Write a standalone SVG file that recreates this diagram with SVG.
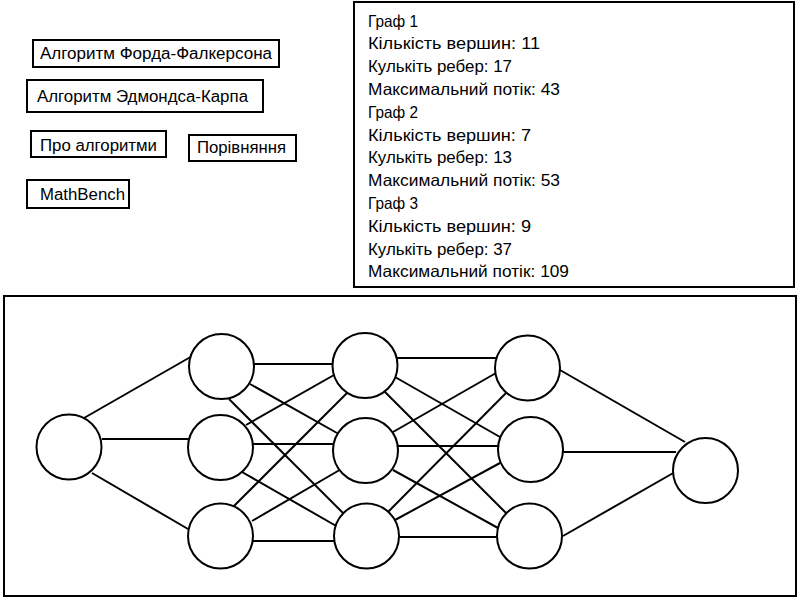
<svg xmlns="http://www.w3.org/2000/svg" width="800" height="600" viewBox="0 0 800 600">
<style>
  .btn rect { fill: #fff; stroke: #000; stroke-width: 2; }
  text { font-family: "Liberation Sans", Arial, sans-serif; font-size: 16px; fill: #000; }
  .info text { font-size: 16.5px; }
  .frame { fill: #fff; stroke: #000; stroke-width: 2; }
  .node circle { fill: #fff; stroke: #000; stroke-width: 2; }
  #edges line { stroke: #000; stroke-width: 2; }
</style>
<rect width="800" height="600" fill="#fff"/>

<g id="btn-ford" class="btn"><rect x="33" y="40" width="246" height="27"/><text x="40" y="59" textLength="232" lengthAdjust="spacingAndGlyphs">Алгоритм Форда-Фалкерсона</text></g>
<g id="btn-edmonds" class="btn"><rect x="27" y="80" width="236" height="32"/><text x="37" y="102" textLength="211" lengthAdjust="spacingAndGlyphs">Алгоритм Эдмондса-Карпа</text></g>
<g id="btn-about" class="btn"><rect x="31" y="131" width="135" height="26"/><text x="40" y="151" textLength="117" lengthAdjust="spacingAndGlyphs">Про алгоритми</text></g>
<g id="btn-compare" class="btn"><rect x="189" y="135" width="107" height="26"/><text x="197" y="153" textLength="89" lengthAdjust="spacingAndGlyphs">Порівняння</text></g>
<g id="btn-mathbench" class="btn"><rect x="27" y="180" width="102" height="28"/><text x="40" y="200" textLength="85" lengthAdjust="spacingAndGlyphs">MathBench</text></g>

<g id="info" class="info">
  <rect x="354" y="2" width="440" height="285" class="frame"/>
  <text x="368" y="26.5" textLength="50" lengthAdjust="spacingAndGlyphs">Граф 1</text>
  <text x="368" y="49.3" textLength="172" lengthAdjust="spacingAndGlyphs">Кількість вершин: 11</text>
  <text x="368" y="72.1" textLength="144" lengthAdjust="spacingAndGlyphs">Кулькіть ребер: 17</text>
  <text x="368" y="94.9" textLength="192" lengthAdjust="spacingAndGlyphs">Максимальний потік: 43</text>
  <text x="368" y="117.7" textLength="50" lengthAdjust="spacingAndGlyphs">Граф 2</text>
  <text x="368" y="140.5" textLength="163" lengthAdjust="spacingAndGlyphs">Кількість вершин: 7</text>
  <text x="368" y="163.3" textLength="144" lengthAdjust="spacingAndGlyphs">Кулькіть ребер: 13</text>
  <text x="368" y="186.1" textLength="192" lengthAdjust="spacingAndGlyphs">Максимальний потік: 53</text>
  <text x="368" y="208.9" textLength="50" lengthAdjust="spacingAndGlyphs">Граф 3</text>
  <text x="368" y="231.7" textLength="163" lengthAdjust="spacingAndGlyphs">Кількість вершин: 9</text>
  <text x="368" y="254.5" textLength="144" lengthAdjust="spacingAndGlyphs">Кулькіть ребер: 37</text>
  <text x="368" y="277.3" textLength="201" lengthAdjust="spacingAndGlyphs">Максимальний потік: 109</text>
</g>

<rect x="4" y="296" width="792" height="300" class="frame"/>

<g id="edges">
  <line x1="84" y1="418" x2="194" y2="355"/>
  <line x1="102" y1="439" x2="193" y2="439"/>
  <line x1="92" y1="473" x2="188" y2="529"/>

  <line x1="254" y1="364" x2="334" y2="364"/>
  <line x1="250" y1="384" x2="337" y2="433"/>
  <line x1="229" y1="399" x2="343" y2="513"/>
  <line x1="246" y1="425" x2="334" y2="375"/>
  <line x1="253" y1="444" x2="333" y2="444"/>
  <line x1="242" y1="472" x2="338" y2="527"/>
  <line x1="230" y1="510" x2="347" y2="393"/>
  <line x1="252" y1="521" x2="343" y2="468"/>
  <line x1="252" y1="541" x2="334" y2="541"/>

  <line x1="395" y1="358" x2="499" y2="358"/>
  <line x1="395" y1="377" x2="500" y2="437"/>
  <line x1="382" y1="389" x2="506" y2="513"/>
  <line x1="393" y1="432" x2="496" y2="373"/>
  <line x1="398" y1="446" x2="501" y2="446"/>
  <line x1="393" y1="470" x2="498" y2="528"/>
  <line x1="387" y1="513" x2="506" y2="393"/>
  <line x1="395" y1="520" x2="500" y2="463"/>
  <line x1="399" y1="537" x2="497" y2="537"/>

  <line x1="560" y1="370" x2="685" y2="442"/>
  <line x1="563" y1="452" x2="676" y2="452"/>
  <line x1="563" y1="536" x2="675" y2="472"/>
</g>

<g id="n-source" class="node"><circle cx="69" cy="447" r="32.5"/></g>
<g id="n-a1" class="node"><circle cx="221.5" cy="366.5" r="32.5"/></g>
<g id="n-a2" class="node"><circle cx="220.5" cy="447.5" r="32.5"/></g>
<g id="n-a3" class="node"><circle cx="220.5" cy="536" r="32.5"/></g>
<g id="n-b1" class="node"><circle cx="365" cy="365.5" r="32.5"/></g>
<g id="n-b2" class="node"><circle cx="365.5" cy="450.5" r="32.5"/></g>
<g id="n-b3" class="node"><circle cx="366.5" cy="536" r="32.5"/></g>
<g id="n-c1" class="node"><circle cx="527.5" cy="368" r="32.5"/></g>
<g id="n-c2" class="node"><circle cx="530.5" cy="449.5" r="32.5"/></g>
<g id="n-c3" class="node"><circle cx="529.5" cy="536" r="32.5"/></g>
<g id="n-sink" class="node"><circle cx="705.5" cy="470.5" r="32.5"/></g>
</svg>
